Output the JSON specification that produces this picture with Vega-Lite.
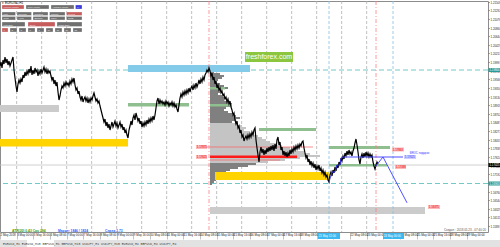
{
"$schema":"https://vega.github.io/schema/vega-lite/v6.json",
"width":488,"height":231,
"autosize":{"type":"none"},
"padding":{"left":0,"top":1,"right":12,"bottom":15},
"background":"white",
"config":{"font":"Liberation Sans","view":{"stroke":"#8c8c8c","strokeWidth":1}},
"resolve":{"scale":{"color":"independent"}},
"datasets":{
"price":[
{"x":0,"p":1.199},{"x":1,"p":1.2},{"x":2,"p":1.1985},{"x":3,"p":1.2005},{"x":4,"p":1.1995},{"x":5,"p":1.20125},{"x":6,"p":1.19975},{"x":7,"p":1.20075},{"x":8,"p":1.19925},{"x":9,"p":1.20025},
{"x":10,"p":1.199},{"x":11,"p":1.19975},{"x":12,"p":1.2005},{"x":13,"p":1.20125},{"x":14,"p":1.198},{"x":15,"p":1.196},{"x":16,"p":1.194},{"x":17,"p":1.1925},{"x":18,"p":1.1945},{"x":19,"p":1.1955},
{"x":20,"p":1.19475},{"x":21,"p":1.19575},{"x":22,"p":1.195},{"x":23,"p":1.19675},{"x":24,"p":1.196},{"x":25,"p":1.1975},{"x":26,"p":1.1965},{"x":27,"p":1.19775},{"x":28,"p":1.197},{"x":29,"p":1.19825},
{"x":30,"p":1.19725},{"x":31,"p":1.199},{"x":32,"p":1.19675},{"x":33,"p":1.198},{"x":34,"p":1.197},{"x":35,"p":1.1985},{"x":36,"p":1.1975},{"x":37,"p":1.198},{"x":38,"p":1.1965},{"x":39,"p":1.19775},
{"x":40,"p":1.197},{"x":41,"p":1.19825},{"x":42,"p":1.19725},{"x":43,"p":1.198},{"x":44,"p":1.19875},{"x":45,"p":1.1975},{"x":46,"p":1.19825},{"x":47,"p":1.197},{"x":48,"p":1.198},{"x":49,"p":1.19725},
{"x":50,"p":1.19775},{"x":51,"p":1.1965},{"x":52,"p":1.1955},{"x":53,"p":1.19625},{"x":54,"p":1.1945},{"x":55,"p":1.1955},{"x":56,"p":1.194},{"x":57,"p":1.195},{"x":58,"p":1.1925},{"x":59,"p":1.1905},
{"x":60,"p":1.1915},{"x":61,"p":1.193},{"x":62,"p":1.194},{"x":63,"p":1.1935},{"x":64,"p":1.19475},{"x":65,"p":1.194},{"x":66,"p":1.195},{"x":67,"p":1.19425},{"x":68,"p":1.19475},{"x":69,"p":1.194},
{"x":70,"p":1.19525},{"x":71,"p":1.1945},{"x":72,"p":1.19575},{"x":73,"p":1.195},{"x":74,"p":1.196},{"x":75,"p":1.19425},{"x":76,"p":1.193},{"x":77,"p":1.1935},{"x":78,"p":1.192},{"x":79,"p":1.19275},
{"x":80,"p":1.19125},{"x":81,"p":1.1905},{"x":82,"p":1.1915},{"x":83,"p":1.19},{"x":84,"p":1.19075},{"x":85,"p":1.19125},{"x":86,"p":1.19025},{"x":87,"p":1.191},{"x":88,"p":1.18975},{"x":89,"p":1.19075},
{"x":90,"p":1.19},{"x":91,"p":1.191},{"x":92,"p":1.1905},{"x":93,"p":1.1915},{"x":94,"p":1.19225},{"x":95,"p":1.19125},{"x":96,"p":1.19025},{"x":97,"p":1.19075},{"x":98,"p":1.18975},{"x":99,"p":1.19025},
{"x":100,"p":1.189},{"x":101,"p":1.188},{"x":102,"p":1.187},{"x":103,"p":1.186},{"x":104,"p":1.185},{"x":105,"p":1.18575},{"x":106,"p":1.184},{"x":107,"p":1.185},{"x":108,"p":1.1835},{"x":109,"p":1.1845},
{"x":110,"p":1.183},{"x":111,"p":1.184},{"x":112,"p":1.185},{"x":113,"p":1.18375},{"x":114,"p":1.1845},{"x":115,"p":1.18525},{"x":116,"p":1.184},{"x":117,"p":1.18475},{"x":118,"p":1.1835},{"x":119,"p":1.18425},
{"x":120,"p":1.185},{"x":121,"p":1.18375},{"x":122,"p":1.1845},{"x":123,"p":1.183},{"x":124,"p":1.18375},{"x":125,"p":1.18225},{"x":126,"p":1.183},{"x":127,"p":1.18175},{"x":128,"p":1.181},{"x":129,"p":1.183},
{"x":130,"p":1.184},{"x":131,"p":1.18525},{"x":132,"p":1.18425},{"x":133,"p":1.186},{"x":134,"p":1.18675},{"x":135,"p":1.1855},{"x":136,"p":1.18725},{"x":137,"p":1.18625},{"x":138,"p":1.18525},{"x":139,"p":1.186},
{"x":140,"p":1.1845},{"x":141,"p":1.18525},{"x":142,"p":1.18375},{"x":143,"p":1.18475},{"x":144,"p":1.184},{"x":145,"p":1.185},{"x":146,"p":1.18425},{"x":147,"p":1.1855},{"x":148,"p":1.1845},{"x":149,"p":1.18575},
{"x":150,"p":1.185},{"x":151,"p":1.186},{"x":152,"p":1.18525},{"x":153,"p":1.1865},{"x":154,"p":1.1855},{"x":155,"p":1.18675},{"x":156,"p":1.1885},{"x":157,"p":1.19025},{"x":158,"p":1.191},{"x":159,"p":1.1895},
{"x":160,"p":1.1905},{"x":161,"p":1.18975},{"x":162,"p":1.19025},{"x":163,"p":1.1895},{"x":164,"p":1.19},{"x":165,"p":1.18925},{"x":166,"p":1.19025},{"x":167,"p":1.1895},{"x":168,"p":1.19},{"x":169,"p":1.189},
{"x":170,"p":1.18975},{"x":171,"p":1.18925},{"x":172,"p":1.19},{"x":173,"p":1.189},{"x":174,"p":1.18975},{"x":175,"p":1.18875},{"x":176,"p":1.18925},{"x":177,"p":1.18825},{"x":178,"p":1.1875},{"x":179,"p":1.18925},
{"x":180,"p":1.191},{"x":181,"p":1.192},{"x":182,"p":1.19125},{"x":183,"p":1.1925},{"x":184,"p":1.19175},{"x":185,"p":1.19275},{"x":186,"p":1.192},{"x":187,"p":1.193},{"x":188,"p":1.19225},{"x":189,"p":1.1935},
{"x":190,"p":1.1925},{"x":191,"p":1.1935},{"x":192,"p":1.194},{"x":193,"p":1.193},{"x":194,"p":1.19425},{"x":195,"p":1.1935},{"x":196,"p":1.19475},{"x":197,"p":1.19375},{"x":198,"p":1.1945},{"x":199,"p":1.1955},
{"x":200,"p":1.1945},{"x":201,"p":1.19575},{"x":202,"p":1.195},{"x":203,"p":1.19625},{"x":204,"p":1.1955},{"x":205,"p":1.19675},{"x":206,"p":1.19725},{"x":207,"p":1.198},{"x":208,"p":1.1975},{"x":209,"p":1.1985},
{"x":210,"p":1.19775},{"x":211,"p":1.1965},{"x":212,"p":1.19725},{"x":213,"p":1.1955},{"x":214,"p":1.19625},{"x":215,"p":1.1945},{"x":216,"p":1.19525},{"x":217,"p":1.1935},{"x":218,"p":1.19425},{"x":219,"p":1.193},
{"x":220,"p":1.1935},{"x":221,"p":1.19225},{"x":222,"p":1.19275},{"x":223,"p":1.1915},{"x":224,"p":1.192},{"x":225,"p":1.19075},{"x":226,"p":1.19125},{"x":227,"p":1.19},{"x":228,"p":1.19075},{"x":229,"p":1.1895},
{"x":230,"p":1.19025},{"x":231,"p":1.18875},{"x":232,"p":1.188},{"x":233,"p":1.18675},{"x":234,"p":1.18725},{"x":235,"p":1.1855},{"x":236,"p":1.1845},{"x":237,"p":1.18525},{"x":238,"p":1.1835},{"x":239,"p":1.184},
{"x":240,"p":1.18225},{"x":241,"p":1.183},{"x":242,"p":1.18125},{"x":243,"p":1.18175},{"x":244,"p":1.18025},{"x":245,"p":1.181},{"x":246,"p":1.1815},{"x":247,"p":1.18075},{"x":248,"p":1.18175},{"x":249,"p":1.181},
{"x":250,"p":1.182},{"x":251,"p":1.18125},{"x":252,"p":1.1825},{"x":253,"p":1.18175},{"x":254,"p":1.183},{"x":255,"p":1.1835},{"x":256,"p":1.1805},{"x":257,"p":1.1785},{"x":258,"p":1.17675},{"x":259,"p":1.175},
{"x":260,"p":1.1775},{"x":261,"p":1.17875},{"x":262,"p":1.17725},{"x":263,"p":1.17825},{"x":264,"p":1.17675},{"x":265,"p":1.178},{"x":266,"p":1.177},{"x":267,"p":1.1785},{"x":268,"p":1.1775},{"x":269,"p":1.17875},
{"x":270,"p":1.17775},{"x":271,"p":1.179},{"x":272,"p":1.178},{"x":273,"p":1.17925},{"x":274,"p":1.17775},{"x":275,"p":1.1795},{"x":276,"p":1.17825},{"x":277,"p":1.1805},{"x":278,"p":1.18125},{"x":279,"p":1.17925},
{"x":280,"p":1.18},{"x":281,"p":1.178},{"x":282,"p":1.17875},{"x":283,"p":1.17675},{"x":284,"p":1.17775},{"x":285,"p":1.1765},{"x":286,"p":1.1775},{"x":287,"p":1.17625},{"x":288,"p":1.17725},{"x":289,"p":1.1765},
{"x":290,"p":1.178},{"x":291,"p":1.177},{"x":292,"p":1.17825},{"x":293,"p":1.1775},{"x":294,"p":1.17875},{"x":295,"p":1.178},{"x":296,"p":1.179},{"x":297,"p":1.17825},{"x":298,"p":1.17925},{"x":299,"p":1.1785},
{"x":300,"p":1.1795},{"x":301,"p":1.179},{"x":302,"p":1.18},{"x":303,"p":1.18025},{"x":304,"p":1.1785},{"x":305,"p":1.17725},{"x":306,"p":1.176},{"x":307,"p":1.17675},{"x":308,"p":1.175},{"x":309,"p":1.17575},
{"x":310,"p":1.17425},{"x":311,"p":1.17525},{"x":312,"p":1.174},{"x":313,"p":1.17475},{"x":314,"p":1.1735},{"x":315,"p":1.1745},{"x":316,"p":1.173},{"x":317,"p":1.174},{"x":318,"p":1.17325},{"x":319,"p":1.17425},
{"x":320,"p":1.17275},{"x":321,"p":1.1735},{"x":322,"p":1.17225},{"x":323,"p":1.173},{"x":324,"p":1.17175},{"x":325,"p":1.1725},{"x":326,"p":1.17125},{"x":327,"p":1.17175},{"x":328,"p":1.1705},{"x":329,"p":1.17},
{"x":330,"p":1.17175},{"x":331,"p":1.1725},{"x":332,"p":1.1715},{"x":333,"p":1.173},{"x":334,"p":1.17225},{"x":335,"p":1.17375},{"x":336,"p":1.17275},{"x":337,"p":1.17425},{"x":338,"p":1.1735},{"x":339,"p":1.175},
{"x":340,"p":1.17425},{"x":341,"p":1.176},{"x":342,"p":1.17525},{"x":343,"p":1.1765},{"x":344,"p":1.17575},{"x":345,"p":1.17725},{"x":346,"p":1.1765},{"x":347,"p":1.17775},{"x":348,"p":1.17675},{"x":349,"p":1.178},
{"x":350,"p":1.177},{"x":351,"p":1.1775},{"x":352,"p":1.1765},{"x":353,"p":1.17775},{"x":354,"p":1.1785},{"x":355,"p":1.17975},{"x":356,"p":1.18075},{"x":357,"p":1.17925},{"x":358,"p":1.1775},{"x":359,"p":1.1755},
{"x":360,"p":1.1745},{"x":361,"p":1.17625},{"x":362,"p":1.177},{"x":363,"p":1.176},{"x":364,"p":1.17725},{"x":365,"p":1.17625},{"x":366,"p":1.1775},{"x":367,"p":1.1765},{"x":368,"p":1.17725},{"x":369,"p":1.17625},
{"x":370,"p":1.177},{"x":371,"p":1.17625},{"x":372,"p":1.17675},{"x":373,"p":1.175},{"x":374,"p":1.174},{"x":375,"p":1.17325},{"x":376,"p":1.17425},{"x":377,"p":1.175},{"x":378,"p":1.1745}
],
"proj":[
{"x":329,"p":1.17,"s":"a"},{"x":332,"p":1.1725,"s":"a"},{"x":335,"p":1.1725,"s":"a"},{"x":337,"p":1.17425,"s":"a"},{"x":340,"p":1.17425,"s":"a"},{"x":341,"p":1.176,"s":"a"},{"x":343,"p":1.17625,"s":"a"},{"x":403,"p":1.17625,"s":"a"},
{"x":375,"p":1.17375,"s":"b"},{"x":383,"p":1.17625,"s":"b"},{"x":407,"p":1.1648,"s":"b"}
],
"profile":[
{"s":210,"e":214,"hi":1.19775,"lo":1.19725,"z":"out"},{"s":210,"e":220,"hi":1.19725,"lo":1.19675,"z":"out"},{"s":210,"e":224,"hi":1.19675,"lo":1.19625,"z":"out"},{"s":210,"e":222,"hi":1.19625,"lo":1.19575,"z":"out"},
{"s":210,"e":218,"hi":1.19575,"lo":1.19525,"z":"out"},{"s":210,"e":216,"hi":1.19525,"lo":1.19475,"z":"out"},{"s":210,"e":220,"hi":1.19475,"lo":1.19425,"z":"out"},{"s":210,"e":224,"hi":1.19425,"lo":1.19375,"z":"out"},
{"s":210,"e":228,"hi":1.19375,"lo":1.19325,"z":"out"},{"s":210,"e":222,"hi":1.19325,"lo":1.19275,"z":"out"},{"s":210,"e":220,"hi":1.19275,"lo":1.19225,"z":"out"},{"s":210,"e":218,"hi":1.19225,"lo":1.19175,"z":"out"},
{"s":210,"e":222,"hi":1.19175,"lo":1.19125,"z":"out"},{"s":210,"e":226,"hi":1.19125,"lo":1.19075,"z":"out"},{"s":210,"e":224,"hi":1.19075,"lo":1.19025,"z":"out"},{"s":210,"e":228,"hi":1.19025,"lo":1.18975,"z":"out"},
{"s":210,"e":232,"hi":1.18975,"lo":1.18925,"z":"out"},{"s":210,"e":230,"hi":1.18925,"lo":1.18875,"z":"out"},{"s":210,"e":226,"hi":1.18875,"lo":1.18825,"z":"out"},{"s":210,"e":224,"hi":1.18825,"lo":1.18775,"z":"out"},
{"s":210,"e":228,"hi":1.18775,"lo":1.18725,"z":"out"},{"s":210,"e":232,"hi":1.18725,"lo":1.18675,"z":"out"},{"s":210,"e":236,"hi":1.18675,"lo":1.18625,"z":"out"},{"s":210,"e":240,"hi":1.18625,"lo":1.18575,"z":"out"},
{"s":210,"e":236,"hi":1.18575,"lo":1.18525,"z":"out"},{"s":210,"e":232,"hi":1.18525,"lo":1.18475,"z":"out"},{"s":210,"e":238,"hi":1.18475,"lo":1.18425,"z":"va"},{"s":210,"e":242,"hi":1.18425,"lo":1.18375,"z":"va"},
{"s":210,"e":246,"hi":1.18375,"lo":1.18325,"z":"va"},{"s":210,"e":244,"hi":1.18325,"lo":1.18275,"z":"va"},{"s":210,"e":250,"hi":1.18275,"lo":1.18225,"z":"va"},{"s":210,"e":254,"hi":1.18225,"lo":1.18175,"z":"va"},
{"s":210,"e":258,"hi":1.18175,"lo":1.18125,"z":"va"},{"s":210,"e":262,"hi":1.18125,"lo":1.18075,"z":"va"},{"s":210,"e":266,"hi":1.18075,"lo":1.18025,"z":"va"},{"s":210,"e":270,"hi":1.18025,"lo":1.17975,"z":"va"},
{"s":210,"e":276,"hi":1.17975,"lo":1.17925,"z":"va"},{"s":210,"e":282,"hi":1.17925,"lo":1.17875,"z":"va"},{"s":210,"e":290,"hi":1.17875,"lo":1.17825,"z":"va"},{"s":210,"e":296,"hi":1.17825,"lo":1.17775,"z":"va"},
{"s":210,"e":304,"hi":1.17775,"lo":1.17725,"z":"va"},{"s":210,"e":310,"hi":1.17725,"lo":1.17675,"z":"va"},{"s":210,"e":320,"hi":1.17675,"lo":1.17625,"z":"va"},{"s":210,"e":300,"hi":1.17625,"lo":1.17575,"z":"va"},
{"s":210,"e":285,"hi":1.17575,"lo":1.17525,"z":"va"},{"s":210,"e":268,"hi":1.17525,"lo":1.17475,"z":"va"},{"s":210,"e":256,"hi":1.17475,"lo":1.17425,"z":"out"},{"s":210,"e":248,"hi":1.17425,"lo":1.17375,"z":"out"},
{"s":210,"e":238,"hi":1.17375,"lo":1.17325,"z":"out"},{"s":210,"e":230,"hi":1.17325,"lo":1.17275,"z":"out"},{"s":210,"e":226,"hi":1.17275,"lo":1.17225,"z":"out"},{"s":210,"e":222,"hi":1.17225,"lo":1.17175,"z":"out"},
{"s":210,"e":220,"hi":1.17175,"lo":1.17125,"z":"out"},{"s":210,"e":218,"hi":1.17125,"lo":1.17075,"z":"out"},{"s":210,"e":216,"hi":1.17075,"lo":1.17025,"z":"out"},{"s":210,"e":214,"hi":1.17025,"lo":1.16975,"z":"out"},
{"s":210,"e":212,"hi":1.16975,"lo":1.16925,"z":"out"}
],
"zones":[
{"x1":128,"x2":250,"hi":1.19925,"lo":1.1975,"c":"sky"},
{"x1":0,"x2":59,"hi":1.18925,"lo":1.1875,"c":"gray"},
{"x1":0,"x2":128,"hi":1.18075,"lo":1.17888,"c":"yellow"},
{"x1":128,"x2":189,"hi":1.18975,"lo":1.18888,"c":"green"},
{"x1":210,"x2":225,"hi":1.19375,"lo":1.19313,"c":"green"},
{"x1":210,"x2":232,"hi":1.1895,"lo":1.18888,"c":"green"},
{"x1":259,"x2":316,"hi":1.1835,"lo":1.18275,"c":"green"},
{"x1":329,"x2":390,"hi":1.179,"lo":1.17825,"c":"green"},
{"x1":329,"x2":387,"hi":1.1745,"lo":1.17388,"c":"green"},
{"x1":215,"x2":329,"hi":1.1725,"lo":1.1705,"c":"yellow"},
{"x1":210,"x2":425,"hi":1.16375,"lo":1.162,"c":"gray"}
],
"days":[{"x":16.667},{"x":41.667},{"x":66.667},{"x":91.667},{"x":116.667},{"x":141.667},{"x":166.667},{"x":191.667},{"x":216.667},{"x":241.667},{"x":266.667},{"x":291.667},{"x":316.667},{"x":341.667},{"x":366.667}],
"levels":[
{"x1":196,"x2":207,"hi":1.17925,"lo":1.17825,"pc":1.17875,"t":"1.17875"},
{"x1":196,"x2":207,"hi":1.17675,"lo":1.17575,"pc":1.17625,"t":"1.17625"},
{"x1":392,"x2":404,"hi":1.17863,"lo":1.17763,"pc":1.17813,"t":"1.17863"},
{"x1":395,"x2":406,"hi":1.17425,"lo":1.17325,"pc":1.17375,"t":"1.17388"},
{"x1":428,"x2":440,"hi":1.16425,"lo":1.16325,"pc":1.16375,"t":"1.16375"}
],
"axbox":[
{"x1":488.5,"x2":500,"tx":489.5,"hi":1.1985,"lo":1.1975,"pc":1.198,"t":"1.19800","k":"teal"},
{"x1":488.5,"x2":500,"tx":489.5,"hi":1.17475,"lo":1.17375,"pc":1.17425,"t":"1.17425","k":"cur"},
{"x1":488.5,"x2":500,"tx":489.5,"hi":1.170125,"lo":1.169125,"pc":1.169625,"t":"1.16963","k":"teal"}
],
"dbox":[{"x1":318,"x2":340,"hi":1.15725,"lo":1.15575,"pc":1.1565,"t":"21 May 12:00"},{"x1":383,"x2":404,"hi":1.15725,"lo":1.15575,"pc":1.1565,"t":"24 May 00:00"}],
"panels":[
{"x1":245,"x2":293,"hi":1.2025,"lo":1.2,"k":"logo"},
{"x1":0,"x2":500,"hi":1.1555,"lo":1.15375,"k":"tabs"},
{"x1":27,"x2":54,"hi":1.1555,"lo":1.15375,"k":"tab"}
],
"buttons":[
{"x1":2,"x2":24,"hi":1.21425,"lo":1.21325,"k":"r","t":"Volume Profile"},
{"x1":26,"x2":49,"hi":1.21425,"lo":1.21325,"k":"g","t":"Time Profile"},
{"x1":51,"x2":74,"hi":1.21425,"lo":1.21325,"k":"g","t":"Add/Del Profile"},
{"x1":75.5,"x2":82,"hi":1.21425,"lo":1.21325,"k":"b","t":"[-]"},
{"x1":2,"x2":15.5,"hi":1.2125,"lo":1.21163,"k":"g","t":"Line"},
{"x1":17,"x2":31.5,"hi":1.2125,"lo":1.21163,"k":"g","t":"Polyline"},
{"x1":33,"x2":48,"hi":1.2125,"lo":1.21163,"k":"g","t":"Contour"},
{"x1":49.5,"x2":65,"hi":1.2125,"lo":1.21163,"k":"g","t":"Circles"},
{"x1":66.5,"x2":82,"hi":1.2125,"lo":1.21163,"k":"r","t":"Levels"},
{"x1":2,"x2":15.5,"hi":1.21138,"lo":1.2105,"k":"g","t":"Price"},
{"x1":17,"x2":31.5,"hi":1.21138,"lo":1.2105,"k":"g","t":"Area"},
{"x1":33,"x2":48,"hi":1.21138,"lo":1.2105,"k":"g","t":"Sample"},
{"x1":49.5,"x2":65,"hi":1.21138,"lo":1.2105,"k":"g","t":"POM"},
{"x1":66.5,"x2":82,"hi":1.21138,"lo":1.2105,"k":"g","t":"CME"},
{"x1":2,"x2":25,"hi":1.21,"lo":1.20888,"k":"g","t":"Left Side"},
{"x1":28,"x2":55,"hi":1.21,"lo":1.20888,"k":"r","t":"Open"},
{"x1":57,"x2":82,"hi":1.21,"lo":1.20888,"k":"g","t":"Right Side"},
{"x1":2,"x2":8,"hi":1.2085,"lo":1.2075,"k":"r","t":"1"},
{"x1":10,"x2":17,"hi":1.2085,"lo":1.2075,"k":"g","t":"2"},
{"x1":19,"x2":26,"hi":1.2085,"lo":1.2075,"k":"g","t":"3"},
{"x1":28,"x2":35,"hi":1.2085,"lo":1.2075,"k":"g","t":"5"},
{"x1":37,"x2":44,"hi":1.2085,"lo":1.2075,"k":"g","t":"7"},
{"x1":46,"x2":53,"hi":1.2085,"lo":1.2075,"k":"g","t":"10"},
{"x1":55,"x2":62,"hi":1.2085,"lo":1.2075,"k":"g","t":"15"},
{"x1":64,"x2":71,"hi":1.2085,"lo":1.2075,"k":"g","t":"20"},
{"x1":73,"x2":82,"hi":1.2085,"lo":1.2075,"k":"g","t":"25"}
],
"notes":[
{"x":269,"p":1.20125,"t":"freshforex.com","k":"logo"},
{"x":2,"p":1.21475,"t":"▾ EURUSD,H1","k":"title"},
{"x":12,"p":1.15775,"t":"ATR(20) 0.43  Cpu 294","k":"atr"},
{"x":58,"p":1.15775,"t":"Маркет 1846 / 1824","k":"info"},
{"x":105,"p":1.15775,"t":"Спред  1.73","k":"info"},
{"x":486,"p":1.15813,"t":"Создан : 2018.05.23 - 07:40:20","k":"created"},
{"x":3,"p":1.15463,"t":"EURUSD,H1     EURUSD,M15    GBPUSD,H1     GBPUSD,M15    USDJPY,H1     USDJPY,M15    EURUSD,H4     GBPUSD,H4     USDJPY,H4","k":"tabs"},
{"x":404,"p":1.17625,"t":"1.17625","k":"blue"},
{"x":409,"p":1.17738,"t":"BROC подарок","k":"blue"}
]
},
"layer":[
{"data":{"name":"days"},"mark":{"type":"rule","color":"#b0b0b0","strokeDash":[3,2],"strokeWidth":0.8},
 "encoding":{"x":{"field":"x","type":"quantitative","scale":{"domain":[0,488],"nice":false,"zero":false}}}},
{"data":{"values":[{"p":1.198},{"p":1.169625}]},"mark":{"type":"rule","color":"#74c8c8","strokeDash":[5,3],"strokeWidth":1},
 "encoding":{"y":{"field":"p","type":"quantitative","scale":{"domain":[1.1575,1.21525],"nice":false,"zero":false}}}},
{"data":{"values":[{"p":1.17425}]},"mark":{"type":"rule","color":"#c4c4c4","strokeWidth":0.8},
 "encoding":{"y":{"field":"p","type":"quantitative","scale":{"domain":[1.1575,1.21525],"nice":false,"zero":false}}}},
{"data":{"name":"profile"},"mark":{"type":"rect"},
 "encoding":{"x":{"field":"s","type":"quantitative","scale":{"domain":[0,488],"nice":false,"zero":false}},"x2":{"field":"e"},
 "y":{"field":"hi","type":"quantitative","scale":{"domain":[1.1575,1.21525],"nice":false,"zero":false}},"y2":{"field":"lo"},
 "color":{"field":"z","type":"nominal","scale":{"domain":["out","va"],"range":["#808080","#c4c4c4"]},"legend":null}}},
{"data":{"name":"zones"},"mark":{"type":"rect"},
 "encoding":{"x":{"field":"x1","type":"quantitative","scale":{"domain":[0,488],"nice":false,"zero":false}},"x2":{"field":"x2"},
 "y":{"field":"hi","type":"quantitative","scale":{"domain":[1.1575,1.21525],"nice":false,"zero":false}},"y2":{"field":"lo"},
 "color":{"field":"c","type":"nominal","scale":{"domain":["sky","gray","yellow","green"],"range":["#84cbea","#cbcbcb","#ffd400","#8fbf8f"]},"legend":null}}},
{"data":{"values":[{"x1":210,"x2":297,"hi":1.176625,"lo":1.176}]},"mark":{"type":"rect","color":"#ff1a1a"},
 "encoding":{"x":{"field":"x1","type":"quantitative","scale":{"domain":[0,488],"nice":false,"zero":false}},"x2":{"field":"x2"},
 "y":{"field":"hi","type":"quantitative","scale":{"domain":[1.1575,1.21525],"nice":false,"zero":false}},"y2":{"field":"lo"}}},
{"data":{"values":[{"x1":200,"x2":313,"p":1.17875},{"x1":210,"x2":280,"p":1.1755}]},"mark":{"type":"rule","color":"#ff6060","strokeWidth":0.7},
 "encoding":{"x":{"field":"x1","type":"quantitative","scale":{"domain":[0,488],"nice":false,"zero":false}},"x2":{"field":"x2"},
 "y":{"field":"p","type":"quantitative","scale":{"domain":[1.1575,1.21525],"nice":false,"zero":false}}}},
{"data":{"values":[{"x":209},{"x":376}]},"mark":{"type":"rule","color":"#ff8080","strokeDash":[4,2,1,2],"strokeWidth":0.8},
 "encoding":{"x":{"field":"x","type":"quantitative","scale":{"domain":[0,488],"nice":false,"zero":false}}}},
{"data":{"values":[{"x":329},{"x":393}]},"mark":{"type":"rule","color":"#86c0e4","strokeDash":[3,2],"strokeWidth":0.8},
 "encoding":{"x":{"field":"x","type":"quantitative","scale":{"domain":[0,488],"nice":false,"zero":false}}}},
{"data":{"name":"price"},"mark":{"type":"line","color":"#000000","strokeWidth":1.2},
 "encoding":{
  "x":{"field":"x","type":"quantitative","scale":{"domain":[0,488],"nice":false,"zero":false},
   "axis":{"orient":"bottom","title":null,"grid":false,"domain":false,"tickCount":100,"values":[0,16.667,33.333,50,66.667,83.333,100,116.667,133.333,150,166.667,183.333,200,216.667,233.333,250,266.667,283.333,300,316.667,333.333,350,366.667,383.333,400,416.667,433.333,450,466.667],
   "labelExpr":"['2 May 2018','3 May 00:00','3 May 16:00','4 May 08:00','7 May 00:00','7 May 16:00','8 May 08:00','9 May 00:00','9 May 16:00','10 May 08:00','11 May 00:00','11 May 16:00','14 May 08:00','15 May 00:00','15 May 16:00','16 May 08:00','17 May 00:00','17 May 16:00','18 May 08:00','','','22 May 08:00','23 May 00:00','','24 May 08:00','25 May 00:00','25 May 16:00','28 May 08:00','29 May 00:00'][round(datum.value/16.6667)]",
   "labelAlign":"left","labelBaseline":"top","labelFontSize":2.9,"labelColor":"#222222","labelPadding":-5.5,"labelDx":0.8,"tickSize":7,"tickColor":"#9a9a9a","tickWidth":0.6,"labelOverlap":false,"labelBound":false,"labelFlush":false}},
  "y":{"field":"p","type":"quantitative","scale":{"domain":[1.1575,1.21525],"nice":false,"zero":false},
   "axis":{"orient":"right","title":null,"grid":false,"domain":false,"tickCount":100,"values":[1.21508,1.21292,1.21076,1.2086,1.20644,1.20429,1.20213,1.19997,1.19781,1.19566,1.1935,1.19134,1.18918,1.18702,1.18487,1.18271,1.18055,1.17839,1.17624,1.17408,1.17192,1.16976,1.1676,1.16544,1.16329,1.16113,1.15897],
   "format":".5f","labelFontSize":2.8,"labelColor":"#222222","tickSize":1.5,"tickColor":"#666666","tickWidth":0.6,"labelPadding":0.6,"labelOverlap":false,"labelBound":false,"labelFlush":false}}}},
{"data":{"name":"proj"},"mark":{"type":"line","color":"#3b3bff","strokeWidth":0.9},
 "encoding":{"x":{"field":"x","type":"quantitative","scale":{"domain":[0,488],"nice":false,"zero":false}},
 "y":{"field":"p","type":"quantitative","scale":{"domain":[1.1575,1.21525],"nice":false,"zero":false}},"detail":{"field":"s","type":"nominal"}}},
{"data":{"name":"levels"},"mark":{"type":"rect","color":"#ffb8b8"},
 "encoding":{"x":{"field":"x1","type":"quantitative","scale":{"domain":[0,488],"nice":false,"zero":false}},"x2":{"field":"x2"},
 "y":{"field":"hi","type":"quantitative","scale":{"domain":[1.1575,1.21525],"nice":false,"zero":false}},"y2":{"field":"lo"}}},
{"data":{"name":"levels"},"mark":{"type":"text","color":"#e00000","fontSize":2.8,"align":"left","baseline":"middle","dx":0.8},
 "encoding":{"x":{"field":"x1","type":"quantitative","scale":{"domain":[0,488],"nice":false,"zero":false}},
 "y":{"field":"pc","type":"quantitative","scale":{"domain":[1.1575,1.21525],"nice":false,"zero":false}},"text":{"field":"t","type":"nominal"}}},
{"data":{"values":[{"x1":404,"x2":416,"hi":1.17675,"lo":1.17575}]},"mark":{"type":"rect","color":"#cfcfff"},
 "encoding":{"x":{"field":"x1","type":"quantitative","scale":{"domain":[0,488],"nice":false,"zero":false}},"x2":{"field":"x2"},
 "y":{"field":"hi","type":"quantitative","scale":{"domain":[1.1575,1.21525],"nice":false,"zero":false}},"y2":{"field":"lo"}}},
{"data":{"name":"panels"},"mark":{"type":"rect"},
 "encoding":{"x":{"field":"x1","type":"quantitative","scale":{"domain":[0,488],"nice":false,"zero":false}},"x2":{"field":"x2"},
 "y":{"field":"hi","type":"quantitative","scale":{"domain":[1.1575,1.21525],"nice":false,"zero":false}},"y2":{"field":"lo"},
 "color":{"field":"k","type":"nominal","scale":{"domain":["logo","tabs","tab"],"range":["#8cc63f","#e2e2e2","#ffffff"]},"legend":null}}},
{"data":{"name":"buttons"},"mark":{"type":"rect","stroke":"#ffffff","strokeWidth":0.3},
 "encoding":{"x":{"field":"x1","type":"quantitative","scale":{"domain":[0,488],"nice":false,"zero":false}},"x2":{"field":"x2"},
 "y":{"field":"hi","type":"quantitative","scale":{"domain":[1.1575,1.21525],"nice":false,"zero":false}},"y2":{"field":"lo"},
 "color":{"field":"k","type":"nominal","scale":{"domain":["r","g","b"],"range":["#c65c5c","#6f6f6f","#3a3ad6"]},"legend":null}}},
{"data":{"name":"buttons"},"mark":{"type":"text","color":"#f0f0f0","fontSize":2.4,"align":"left","baseline":"middle","dx":1.5,"dy":-1.6},
 "encoding":{"x":{"field":"x1","type":"quantitative","scale":{"domain":[0,488],"nice":false,"zero":false}},
 "y":{"field":"lo","type":"quantitative","scale":{"domain":[1.1575,1.21525],"nice":false,"zero":false}},"text":{"field":"t","type":"nominal"}}},
{"data":{"name":"axbox"},"mark":{"type":"rect"},
 "encoding":{"x":{"field":"x1","type":"quantitative","scale":{"domain":[0,488],"nice":false,"zero":false}},"x2":{"field":"x2"},
 "y":{"field":"hi","type":"quantitative","scale":{"domain":[1.1575,1.21525],"nice":false,"zero":false}},"y2":{"field":"lo"},
 "color":{"field":"k","type":"nominal","scale":{"domain":["teal","cur"],"range":["#2a9a9a","#000000"]},"legend":null}}},
{"data":{"name":"axbox"},"mark":{"type":"text","color":"#ffffff","fontSize":2.8,"align":"left","baseline":"middle"},
 "encoding":{"x":{"field":"tx","type":"quantitative","scale":{"domain":[0,488],"nice":false,"zero":false}},
 "y":{"field":"pc","type":"quantitative","scale":{"domain":[1.1575,1.21525],"nice":false,"zero":false}},"text":{"field":"t","type":"nominal"}}},
{"data":{"name":"dbox"},"mark":{"type":"rect","color":"#3bb8f0"},
 "encoding":{"x":{"field":"x1","type":"quantitative","scale":{"domain":[0,488],"nice":false,"zero":false}},"x2":{"field":"x2"},
 "y":{"field":"hi","type":"quantitative","scale":{"domain":[1.1575,1.21525],"nice":false,"zero":false}},"y2":{"field":"lo"}}},
{"data":{"name":"dbox"},"mark":{"type":"text","color":"#ffffff","fontSize":2.8,"align":"left","baseline":"middle","dx":0.8},
 "encoding":{"x":{"field":"x1","type":"quantitative","scale":{"domain":[0,488],"nice":false,"zero":false}},
 "y":{"field":"pc","type":"quantitative","scale":{"domain":[1.1575,1.21525],"nice":false,"zero":false}},"text":{"field":"t","type":"nominal"}}},
{"data":{"name":"notes"},"transform":[{"filter":"datum.k=='logo'"}],"mark":{"type":"text","color":"#ffffff","fontSize":7,"align":"center","baseline":"middle"},
 "encoding":{"x":{"field":"x","type":"quantitative","scale":{"domain":[0,488],"nice":false,"zero":false}},
 "y":{"field":"p","type":"quantitative","scale":{"domain":[1.1575,1.21525],"nice":false,"zero":false}},"text":{"field":"t","type":"nominal"}}},
{"data":{"name":"notes"},"transform":[{"filter":"datum.k=='title'"}],"mark":{"type":"text","color":"#000000","fontSize":3.2,"align":"left","baseline":"middle"},
 "encoding":{"x":{"field":"x","type":"quantitative","scale":{"domain":[0,488],"nice":false,"zero":false}},
 "y":{"field":"p","type":"quantitative","scale":{"domain":[1.1575,1.21525],"nice":false,"zero":false}},"text":{"field":"t","type":"nominal"}}},
{"data":{"name":"notes"},"transform":[{"filter":"datum.k=='atr'"}],"mark":{"type":"text","color":"#1f9a1f","fontSize":3.3,"fontWeight":"bold","align":"left","baseline":"middle"},
 "encoding":{"x":{"field":"x","type":"quantitative","scale":{"domain":[0,488],"nice":false,"zero":false}},
 "y":{"field":"p","type":"quantitative","scale":{"domain":[1.1575,1.21525],"nice":false,"zero":false}},"text":{"field":"t","type":"nominal"}}},
{"data":{"name":"notes"},"transform":[{"filter":"datum.k=='info'"}],"mark":{"type":"text","color":"#1e5cff","fontSize":3.3,"fontWeight":"bold","align":"left","baseline":"middle"},
 "encoding":{"x":{"field":"x","type":"quantitative","scale":{"domain":[0,488],"nice":false,"zero":false}},
 "y":{"field":"p","type":"quantitative","scale":{"domain":[1.1575,1.21525],"nice":false,"zero":false}},"text":{"field":"t","type":"nominal"}}},
{"data":{"name":"notes"},"transform":[{"filter":"datum.k=='created'"}],"mark":{"type":"text","color":"#555555","fontSize":3,"align":"right","baseline":"middle"},
 "encoding":{"x":{"field":"x","type":"quantitative","scale":{"domain":[0,488],"nice":false,"zero":false}},
 "y":{"field":"p","type":"quantitative","scale":{"domain":[1.1575,1.21525],"nice":false,"zero":false}},"text":{"field":"t","type":"nominal"}}},
{"data":{"name":"notes"},"transform":[{"filter":"datum.k=='tabs'"}],"mark":{"type":"text","color":"#444444","font":"Liberation Mono","fontSize":3.15,"align":"left","baseline":"middle"},
 "encoding":{"x":{"field":"x","type":"quantitative","scale":{"domain":[0,488],"nice":false,"zero":false}},
 "y":{"field":"p","type":"quantitative","scale":{"domain":[1.1575,1.21525],"nice":false,"zero":false}},"text":{"field":"t","type":"nominal"}}},
{"data":{"name":"notes"},"transform":[{"filter":"datum.k=='blue'"}],"mark":{"type":"text","color":"#3333ff","fontSize":2.8,"align":"left","baseline":"middle","dx":0.8},
 "encoding":{"x":{"field":"x","type":"quantitative","scale":{"domain":[0,488],"nice":false,"zero":false}},
 "y":{"field":"p","type":"quantitative","scale":{"domain":[1.1575,1.21525],"nice":false,"zero":false}},"text":{"field":"t","type":"nominal"}}}
]
}
